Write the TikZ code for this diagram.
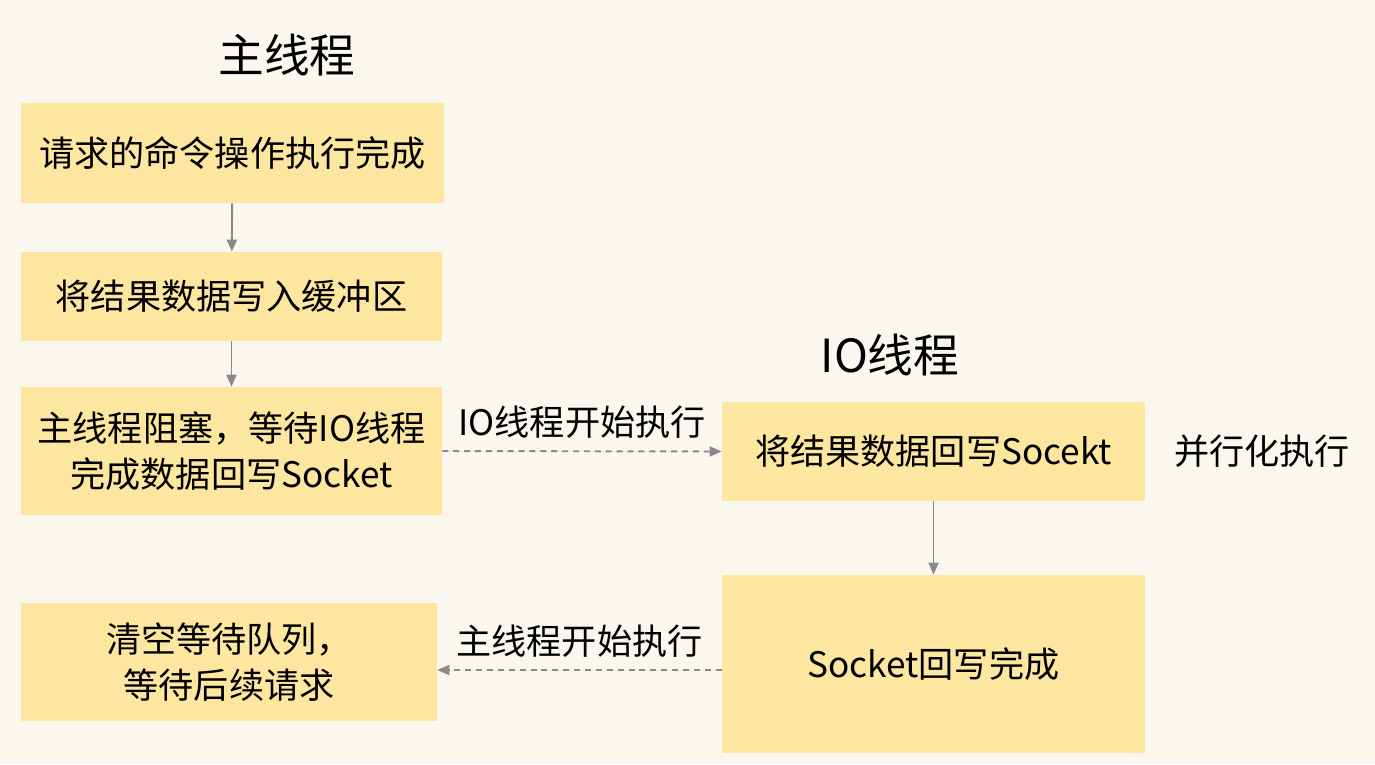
\documentclass[tikz,border=0pt]{standalone}
\usepackage{fontspec}
\setmainfont{Noto Sans CJK SC}
\usetikzlibrary{positioning,arrows.meta}

\definecolor{paper}{HTML}{FAF7EE}
\definecolor{stepfill}{HTML}{FDE6A0}
\definecolor{wire}{HTML}{8A8A8A}

\begin{document}
\begin{tikzpicture}[x=0.02cm,y=-0.02cm,>={Triangle[length=0.24cm,width=0.2cm]},font=\fontsize{20}{26}\selectfont]

    \tikzstyle{stepbox}=[fill=stepfill,inner sep=0pt,align=center]
    \tikzstyle{flow}=[->,draw=wire,fill=wire,line width=1.1pt]
    \tikzstyle{async}=[flow,dash pattern=on 3.4pt off 2.8pt]
    \tikzstyle{title}=[font=\fontsize{26}{30}\selectfont]

    \fill[paper] (0,0) rectangle (1375,764);
    \useasboundingbox (0,0) rectangle (1375,764);

    % main thread
    \node[title]                                                (main)  at (287,55)    {主线程};
    \node[stepbox,minimum width=8.46cm,minimum height=2cm]      (done)  at (232.5,153) {请求的命令操作执行完成};
    \node[stepbox,minimum width=8.42cm,minimum height=1.78cm]   (buf)   at (231.5,296.5) {将结果数据写入缓冲区};
    \node[stepbox,minimum width=8.42cm,minimum height=2.56cm]   (block) at (231.5,451) {主线程阻塞，等待IO线程\\完成数据回写Socket};
    \node[stepbox,minimum width=8.32cm,minimum height=2.36cm]   (clear) at (229,662)   {清空等待队列，\\等待后续请求};

    % io thread
    \node[title]                                                (io)    at (890,355)   {IO线程};
    \node[stepbox,minimum width=8.46cm,minimum height=1.98cm]   (write) at (933.5,451.5) {将结果数据回写Socekt};
    \node[stepbox,minimum width=8.46cm,minimum height=3.56cm]   (sent)  at (933.5,664) {Socket回写完成};
    \node                                                       (par)   at (1262,451)  {并行化执行};

    \path
    (done)  edge[flow]      (buf)
    (buf)   edge[flow]      (block)
    (write.south) edge[flow] (sent.north);

    \draw[async] (block.east) -- node[above=0.12cm,text=black] {IO线程开始执行} (write.west);
    \draw[async] ([yshift=-0.16cm]clear.east -| sent.west) -- node[above=0.12cm,text=black] {主线程开始执行} ([yshift=-0.16cm]clear.east);

\end{tikzpicture}
\end{document}
